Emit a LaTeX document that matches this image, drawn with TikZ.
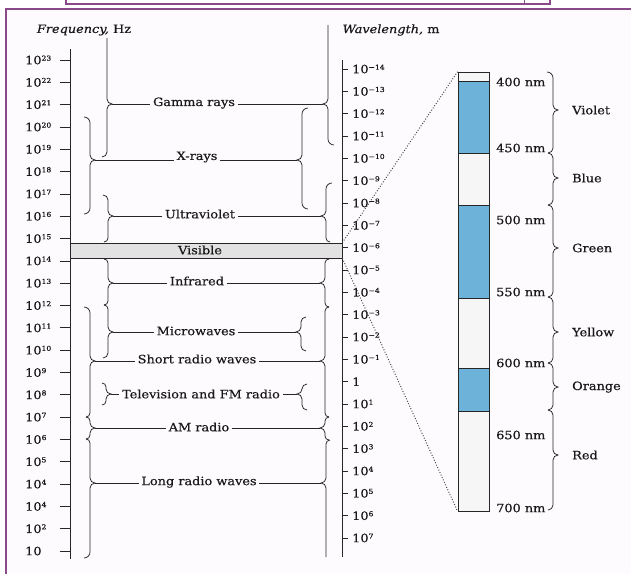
\documentclass[tikz,border=0pt]{standalone}
\usepackage{fontspec}
\setmainfont{DejaVu Serif}[FakeStretch=1.12, FakeBold=0.5]
\definecolor{purp}{HTML}{8A4A8A}
\definecolor{specblue}{HTML}{6DB3D9}
\definecolor{bandgray}{HTML}{E2E2E2}
\definecolor{specwhite}{HTML}{F6F6F6}
\definecolor{bgc}{HTML}{FEFBFE}
\newcommand\supx[1]{\raisebox{3.6pt}{\fontsize{6.8}{7}\selectfont #1}}
\newcommand\tipamp{5}
% brace with tip to the right: name, x, top, tip, bottom, top hook, bottom hook
\newcommand\BR[7]{%
  \draw[brc] (#2-#6,#3) .. controls (#2-0.45*#6,#3) and (#2,#3+0.45*#6) .. (#2,#3+#6)
   -- (#2,#4-\tipamp) .. controls (#2,#4-0.45*\tipamp) and (#2+0.45*\tipamp,#4) .. (#2+\tipamp,#4)
   .. controls (#2+0.45*\tipamp,#4) and (#2,#4+0.45*\tipamp) .. (#2,#4+\tipamp)
   -- (#2,#5-#7) .. controls (#2,#5-0.45*#7) and (#2-0.45*#7,#5) .. (#2-#7,#5);
  \coordinate (#1) at (#2+\tipamp,#4);}
% brace with tip to the left
\newcommand\BL[7]{%
  \draw[brc] (#2+#6,#3) .. controls (#2+0.45*#6,#3) and (#2,#3+0.45*#6) .. (#2,#3+#6)
   -- (#2,#4-\tipamp) .. controls (#2,#4-0.45*\tipamp) and (#2-0.45*\tipamp,#4) .. (#2-\tipamp,#4)
   .. controls (#2-0.45*\tipamp,#4) and (#2,#4+0.45*\tipamp) .. (#2,#4+\tipamp)
   -- (#2,#5-#7) .. controls (#2,#5-0.45*#7) and (#2+0.45*#7,#5) .. (#2+#7,#5);
  \coordinate (#1) at (#2-\tipamp,#4);}
\begin{document}
\begin{tikzpicture}[x=1pt,y=-1pt,
  lbl/.style={font=\fontsize{11.5}{13}\selectfont, inner sep=2.5pt, text=black!90},
  tk/.style={font=\fontsize{11.5}{13}\selectfont, inner sep=0pt, anchor=west, text=black!90},
  ln/.style={draw=black!85, line width=0.75pt},
  brc/.style={draw=black!85, line width=0.75pt},
  framel/.style={draw=purp, line width=1.2pt},
  dots/.style={draw=black!75, line width=1pt, dash pattern=on 0.9pt off 1.8pt}]
\useasboundingbox (0,0) rectangle (631,574);
\fill[white] (0,0) rectangle (631,574);
\fill[bgc] (6,9) rectangle (631,574);
\draw[framel] (6,574) -- (6,9) -- (631,9);
\draw[framel] (66,-5) rectangle (550,4);
\draw[purp, line width=0.8pt] (524,-1) -- (524,4);

% headings
\node[lbl] (freqh) at (84,30) {\textit{Frequency,} Hz};
\node[lbl] (wavh) at (391,30) {\textit{Wavelength,} m};

% visible band
\node[draw=black!85, line width=0.75pt, fill=bandgray, minimum width=272pt, minimum height=15pt, inner sep=0pt] (visband) at (206,250.5) {};
\node[lbl] (vis) at (200,250) {Visible};

% frequency axis
\coordinate (fTop) at (70,49);
\coordinate (fBot) at (70,559);
\draw[ln] (fTop) -- (fBot);
\foreach \e [count=\k from 0] in {23,22,21,20,19,18,17,16,15,14,13,12,11,10,9,8,7,6,5,4,4,2} {
  \pgfmathsetmacro\yy{60+\k*22.32}
  \draw[ln] (60,\yy) -- (70,\yy);
  \node[tk] (f\k) at (25,\yy) {10\supx{\e}};
}
\draw[ln] (60,551) -- (70,551);
\node[tk] (f22) at (25,551) {10};

% wavelength axis
\coordinate (wTop) at (342,60);
\coordinate (wBot) at (342,557);
\draw[ln] (wTop) -- (wBot);
\foreach \e [count=\k from 0] in {−14,−13,−12,−11,−10,−9,−8,−7,−6,−5,−4,−3,−2,−1} {
  \pgfmathsetmacro\yy{69+\k*22.33}
  \draw[ln] (342,\yy) -- (348,\yy);
  \node[tk] (w\k) at (352,\yy) {10\supx{\e}};
}
\draw[ln] (342,381.6) -- (348,381.6);
\node[tk] (w14) at (352,381.6) {1};
\foreach \e [count=\k from 15] in {1,2,3,4,5,6,7} {
  \pgfmathsetmacro\yy{69+\k*22.33}
  \draw[ln] (342,\yy) -- (348,\yy);
  \node[tk] (w\k) at (352,\yy) {10\supx{\e}};
}

% left braces (frequency side)
\BR{gL}{107}{38}{104}{157}{0}{5}
\BR{xL}{90}{117}{160}{214}{6}{6}
\BR{uL}{108}{195}{216}{242}{5}{4}
\BR{iL}{108}{259}{283}{305}{4}{4}
\BR{mL}{108}{305}{332}{358}{4}{5}
\BR{sL}{90}{307}{361}{417}{6}{4}
\BR{aL}{90}{417}{428}{439}{4}{4}
\BR{lL}{90}{439}{483}{558}{4}{6}
\BR{tL}{106}{383}{394}{405}{4}{4}

% right braces (wavelength side)
\BL{gR}{328}{25}{104}{145}{0}{6}
\BL{xR}{302}{108}{160}{209}{6}{6}
\BL{uR}{326}{183}{216}{242}{6}{4}
\BL{iR}{325}{259}{283}{307}{4}{4}
\BL{sR}{325}{307}{361}{417}{4}{4}
\BL{aR}{325}{417}{428}{440}{4}{4}
\BL{lR}{326}{440}{483}{557}{4}{0}
\BL{mR}{301}{317}{332}{351}{5}{5}
\BL{tR}{302}{384}{394}{410}{5}{5}

% band labels
\node[lbl] (gamma) at (194,103) {Gamma rays};
\node[lbl] (xray) at (197,157) {X-rays};
\node[lbl] (uv) at (200,214) {Ultraviolet};
\node[lbl] (ir) at (197,281) {Infrared};
\node[lbl] (micro) at (196,331) {Microwaves};
\node[lbl] (srw) at (197,359) {Short radio waves};
\node[lbl] (tv) at (201,394) {Television and FM radio};
\node[lbl] (am) at (199,427) {AM radio};
\node[lbl] (lrw) at (199,482) {Long radio waves};

% leaders
\foreach \n/\a/\b in {gamma/gL/gR, xray/xL/xR, uv/uL/uR, ir/iL/iR, micro/mL/mR, srw/sL/sR, tv/tL/tR, am/aL/aR, lrw/lL/lR} {
  \draw[ln] (\a) -- (\a -| \n.west);
  \draw[ln] (\n.east |- \b) -- (\b);
}

% spectrum column
\fill[specwhite] (458,72) rectangle (489,511);
\fill[specblue] (458,81) rectangle (489,153);
\fill[specblue] (458,205) rectangle (489,298);
\fill[specblue] (458,368) rectangle (489,411);
\foreach \yy in {81,153,205,298,368,411} { \draw[ln] (458,\yy) -- (489,\yy); }
\node[draw=black!85, line width=0.75pt, minimum width=31pt, minimum height=439pt, inner sep=0pt] (spec) at (473.5,291.5) {};

% dotted zoom lines
\draw[dots] (visband.north east) -- (spec.north west);
\draw[dots] (visband.south east) -- (spec.south west);

% nm labels
\node[tk] (n400) at (496,82) {400 nm};
\node[tk] (n450) at (496,148) {450 nm};
\node[tk] (n500) at (496,220) {500 nm};
\node[tk] (n550) at (496,292) {550 nm};
\node[tk] (n600) at (496,363) {600 nm};
\node[tk] (n650) at (496,435) {650 nm};
\node[tk] (n700) at (496,508) {700 nm};

% colour braces
\BR{vS}{553}{72}{110}{153}{6}{5}
\BR{bS}{553}{153}{178}{205}{5}{5}
\BR{grS}{553}{205}{248}{297}{5}{5}
\BR{yS}{553}{297}{332}{363}{5}{5}
\BR{oS}{553}{363}{387}{410}{5}{5}
\BR{rS}{553}{410}{455}{510}{5}{5}

\node[tk] (violet) at (572,110) {Violet};
\node[tk] (blue) at (572,178) {Blue};
\node[tk] (green) at (572,248) {Green};
\node[tk] (yellow) at (572,332) {Yellow};
\node[tk] (orange) at (572,387) {Orange};
\node[tk] (red) at (572,455) {Red};
\end{tikzpicture}
\end{document}
